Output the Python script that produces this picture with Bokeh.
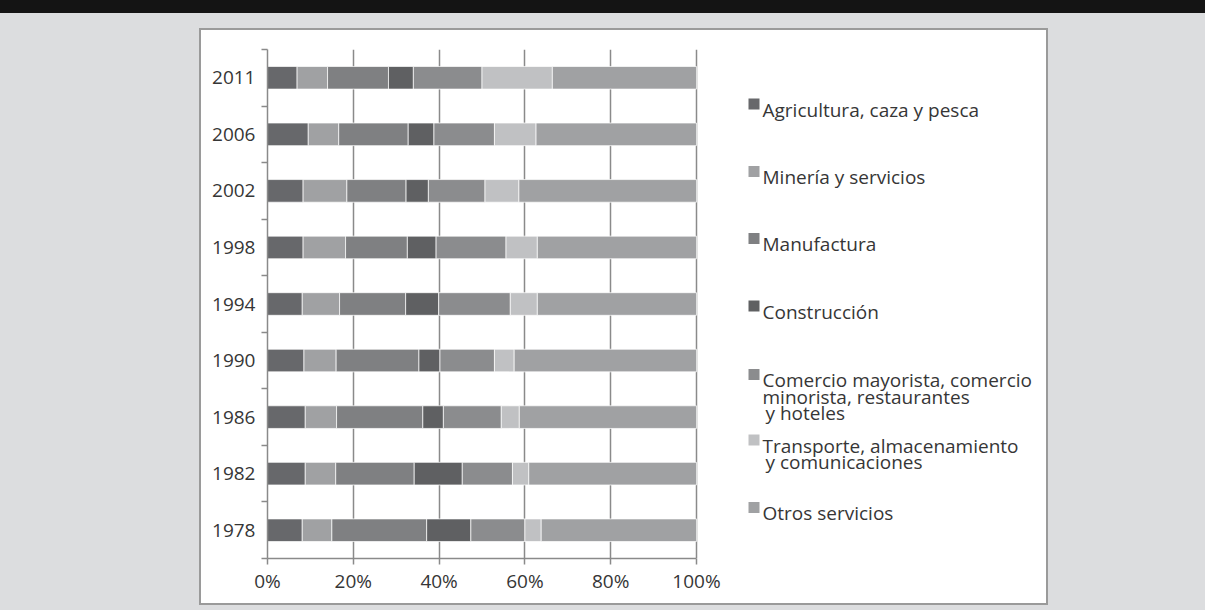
from bokeh.plotting import figure
from bokeh.layouts import column
from bokeh.models import Range1d, FixedTicker, ColumnDataSource, Div
from bokeh.core.properties import value
from bokeh.embed import file_html
from bokeh.resources import INLINE

# ---------------- data (shares in %) ----------------
years = ["1978", "1982", "1986", "1990", "1994", "1998", "2002", "2006", "2011"]

agricultura  = [8.1, 8.8, 8.8, 8.5, 8.1, 8.3, 8.3, 9.5, 6.9]
mineria      = [6.9, 7.1, 7.3, 7.5, 8.7, 9.9, 10.2, 7.1, 7.1]
manufactura  = [22.1, 18.3, 20.1, 19.3, 15.4, 14.4, 13.8, 16.2, 14.2]
construccion = [10.3, 11.2, 4.8, 4.9, 7.7, 6.7, 5.2, 6.0, 5.8]
comercio     = [12.6, 11.7, 13.5, 12.7, 16.7, 16.3, 13.2, 14.1, 16.0]
transporte   = [3.8, 3.8, 4.2, 4.6, 6.3, 7.3, 7.9, 9.7, 16.4]
otros        = [36.2, 39.1, 41.3, 42.5, 37.1, 37.1, 41.4, 37.4, 33.6]

series_keys = ["agricultura", "mineria", "manufactura", "construccion",
               "comercio", "transporte", "otros"]
legend_labels = [
    ["Agricultura, caza y pesca"],
    ["Minería y servicios"],
    ["Manufactura"],
    ["Construcción"],
    ["Comercio mayorista, comercio", "minorista, restaurantes", " y hoteles"],
    ["Transporte, almacenamiento", " y comunicaciones"],
    ["Otros servicios"],
]
colors = ["#67686b", "#a0a1a3", "#7f8082", "#5f6062", "#8b8c8e", "#c0c1c3", "#a0a1a3"]

x_ticks = [0, 20, 40, 60, 80, 100]
x_tick_labels = ["0%", "20%", "40%", "60%", "80%", "100%"]

# ---------------- layout constants (page pixels) ----------------
W, H = 1205, 610
BL, BT, BR, BB = 201, 30, 1046, 603      # white box (inside its border)
FL, FT, FB = 267, 49, 558                # plot frame left/top/bottom
X100 = 696                               # pixel of the 100% gridline
FR = 1040                                # frame extended right to hold the legend
FONT = "Open Sans"
FS = "19px"
TXT = "#363636"
AXC = "#8a8a8a"
BG = "#dcdddf"

n = len(years)
ypos = list(range(1, n + 1))
x_end = (FR - FL) / (X100 - FL) * 100.0


def px_x(px):
    return (px - FL) / (X100 - FL) * 100.0


def px_y(py):
    return 0.5 + (FB - py) / (FB - FT) * n


src = ColumnDataSource(dict(
    y=ypos, agricultura=agricultura, mineria=mineria, manufactura=manufactura,
    construccion=construccion, comercio=comercio, transporte=transporte, otros=otros))

p = figure(width=BR - BL, height=BB - BT, output_backend="svg", toolbar_location=None,
           x_range=Range1d(0, x_end), y_range=Range1d(0.5, n + 0.5),
           min_border_left=FL - BL, min_border_right=BR - FR,
           min_border_top=FT - BT, min_border_bottom=BB - FB,
           background_fill_color="white", border_fill_color="white",
           outline_line_color=None)
p.styles = {"position": "absolute", "left": f"{BL}px", "top": f"{BT}px",
            "background-color": "white",
            "box-shadow": "0 0 0 2px #9a9a9a"}

p.hbar_stack(series_keys, y="y", height=0.4, color=colors, source=src,
             line_color="white", line_width=1, line_alpha=0.7)

# x axis
p.xaxis.bounds = (0, 100)
p.xaxis.ticker = FixedTicker(ticks=x_ticks)
p.xaxis.major_label_overrides = {t: l for t, l in zip(x_ticks, x_tick_labels)}
p.xaxis.axis_line_color = AXC
p.xaxis.axis_line_width = 1.5
p.xaxis.major_tick_line_color = AXC
p.xaxis.major_tick_line_width = 1.5
p.xaxis.major_tick_out = 6
p.xaxis.major_tick_in = 0
p.xaxis.minor_tick_line_color = None
p.xaxis.major_label_text_font = FONT
p.xaxis.major_label_text_font_size = FS
p.xaxis.major_label_text_color = TXT
p.xaxis.major_label_standoff = 3

# y axis: labels at category centres, ticks at category boundaries
p.yaxis.ticker = FixedTicker(ticks=ypos, minor_ticks=[v + 0.5 for v in range(n + 1)])
p.yaxis.major_label_overrides = {v: yr for v, yr in zip(ypos, years)}
p.yaxis.axis_line_color = AXC
p.yaxis.axis_line_width = 1.5
p.yaxis.major_tick_line_color = None
p.yaxis.major_tick_out = 0
p.yaxis.major_tick_in = 0
p.yaxis.minor_tick_line_color = AXC
p.yaxis.minor_tick_line_width = 1.5
p.yaxis.minor_tick_out = 6
p.yaxis.minor_tick_in = 0
p.yaxis.major_label_text_font = FONT
p.yaxis.major_label_text_font_size = FS
p.yaxis.major_label_text_color = TXT
p.yaxis.major_label_standoff = 6

p.xgrid.ticker = FixedTicker(ticks=x_ticks)
p.xgrid.grid_line_color = AXC
p.xgrid.grid_line_width = 1.5
p.ygrid.grid_line_color = None

# ---------------- legend drawn inside the (extended) frame ----------------
baselines = [109, 176.5, 243.5, 311, 379.5, 445, 512.5]
line_gap = 16.5
sq = dict(left=[], right=[], top=[], bottom=[], color=[])
tx = dict(x=[], y=[], text=[])
for lines, col, b in zip(legend_labels, colors, baselines):
    sq["left"].append(px_x(748)); sq["right"].append(px_x(759))
    sq["top"].append(px_y(b - 11)); sq["bottom"].append(px_y(b)); sq["color"].append(col)
    for i, t in enumerate(lines):
        tx["x"].append(px_x(762 + (3 if t.startswith(" ") else 0)))
        tx["y"].append(px_y(b + i * line_gap))
        tx["text"].append(t.strip())
p.quad(left="left", right="right", top="top", bottom="bottom", color="color",
       source=ColumnDataSource(sq), line_color=None)
p.text(x="x", y="y", text="text", source=ColumnDataSource(tx),
       text_font=value(FONT), text_font_size=FS, text_color=TXT,
       text_baseline="alphabetic", text_align="left")

# ---------------- page: grey background with dark title band ----------------
band = Div(text="", width=W, height=13, margin=0,
           styles={"position": "absolute", "left": "0px", "top": "0px",
                   "background-color": "#141414"})

root = column(band, p, width=W, height=H,
              styles={"position": "absolute", "left": "0px", "top": "0px",
                      "background-color": BG})

open("out.html", "w").write(file_html(root, INLINE))
